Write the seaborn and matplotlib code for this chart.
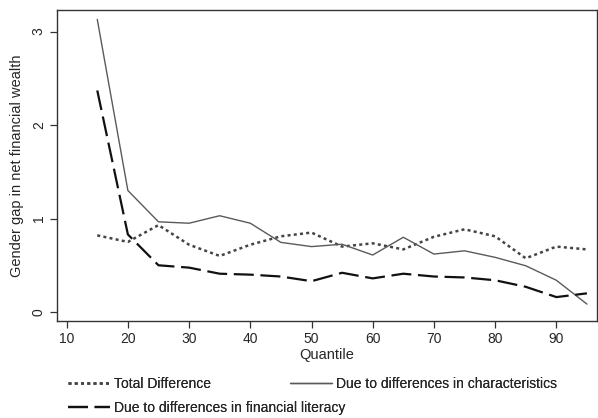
import matplotlib
matplotlib.use("Agg")
import matplotlib.pyplot as plt
import seaborn as sns
import numpy as np

quantiles = [15, 20, 25, 30, 35, 40, 45, 50, 55, 60, 65, 70, 75, 80, 85, 90, 95]
total_diff = [0.82, 0.75, 0.93, 0.72, 0.60, 0.72, 0.81, 0.85, 0.70, 0.735, 0.67, 0.805, 0.885, 0.81, 0.575, 0.70, 0.67]
characteristics = [3.13, 1.30, 0.965, 0.95, 1.03, 0.95, 0.745, 0.70, 0.725, 0.61, 0.80, 0.62, 0.655, 0.585, 0.495, 0.34, 0.085]
fin_literacy = [2.37, 0.83, 0.50, 0.475, 0.41, 0.40, 0.38, 0.33, 0.42, 0.36, 0.41, 0.38, 0.37, 0.34, 0.27, 0.16, 0.20]
labels = ["Total Difference", "Due to differences in characteristics",
          "Due to differences in financial literacy"]
xticks = [10, 20, 30, 40, 50, 60, 70, 80, 90]
yticks = [0, 1, 2, 3]

sns.set_style("ticks")
plt.rcParams['font.family'] = ['Liberation Sans', 'DejaVu Sans']

fig = plt.figure(figsize=(5.98, 4.18), dpi=100)
ax = fig.add_axes([0.0953, 0.232, 0.903, 0.744])

sns.lineplot(x=quantiles, y=total_diff, ax=ax, color="#444444", linewidth=1.8,
             linestyle=(0, (1.2, 1.3)), label=labels[0])
sns.lineplot(x=quantiles, y=characteristics, ax=ax, color="#5a5a5a", linewidth=1.0,
             linestyle="-", label=labels[1])
sns.lineplot(x=quantiles, y=fin_literacy, ax=ax, color="#111111", linewidth=1.6,
             linestyle=(0, (9, 3)), label=labels[2])

ax.set_xlim(8.42, 96.64)
ax.set_ylim(-0.096, 3.23)
ax.set_xticks(xticks)
ax.set_yticks(yticks)
ax.set_xticklabels([str(t) for t in xticks], fontsize=10)
ax.set_yticklabels([str(t) for t in yticks], fontsize=10, rotation=90, va="center")
ax.set_xlabel("Quantile", fontsize=10.5, labelpad=1)
ax.set_ylabel("Gender gap in net financial wealth", fontsize=10.5, labelpad=6)
for s in ax.spines.values():
    s.set_color("#333333")
    s.set_linewidth(1.0)
ax.tick_params(axis="both", direction="out", length=5, width=0.9, color="#333333", pad=3)

handles, labs = ax.get_legend_handles_labels()
ax.get_legend().remove()

# Stata-style legend: row 1 has two keys, row 2 has one key
positions = [(68 / 598, 1 - 384 / 418), (290 / 598, 1 - 384 / 418), (68 / 598, 1 - 408 / 418)]
for h, lab, (px, py) in zip(handles, labs, positions):
    leg = fig.legend([h], [lab], frameon=False, fontsize=10, loc="center left",
                     bbox_to_anchor=(px, py), handlelength=3.0, handletextpad=0.3,
                     borderaxespad=0, borderpad=0)
    fig.add_artist(leg)

fig.savefig("out.png", dpi=100)
